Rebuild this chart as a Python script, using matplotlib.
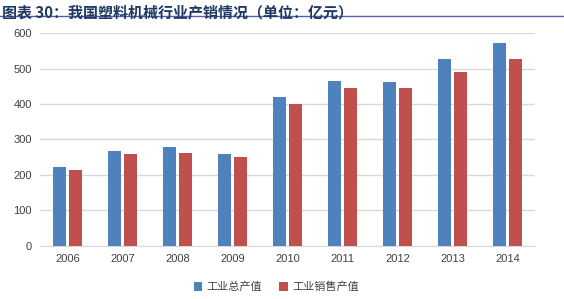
import numpy as np
import matplotlib.pyplot as plt

plt.rcParams['font.family'] = ['Noto Sans CJK SC', 'DejaVu Sans']

years = ['2006', '2007', '2008', '2009', '2010', '2011', '2012', '2013', '2014']
total_output = [222, 268, 280, 258, 421, 465, 462, 526, 571]
sales_output = [215, 260, 262, 251, 401, 444, 445, 490, 528]

fig = plt.figure(figsize=(5.64, 2.99), dpi=100)
ax = fig.add_axes([0.0709, 0.1773, 0.8777, 0.7123])

x = np.arange(len(years))
w = 0.225
ax.bar(x - 0.145, total_output, w, color='#4F81BD', label='工业总产值', zorder=3)
ax.bar(x + 0.145, sales_output, w, color='#C0504D', label='工业销售产值', zorder=3)

ax.set_xlim(-0.5, len(years) - 0.5)
ax.set_ylim(0, 600)
ax.set_yticks(range(0, 601, 100))
ax.set_xticks(x)
ax.set_xticklabels(years)
ax.grid(axis='y', color='#D9D9D9', linewidth=1, zorder=0)
for s in ['top', 'right', 'left']:
    ax.spines[s].set_visible(False)
ax.spines['bottom'].set_color('#D9D9D9')
ax.tick_params(length=0, labelsize=8, colors='#404040', pad=6)
for lbl in ax.get_xticklabels() + ax.get_yticklabels():
    lbl.set_family('Liberation Sans')

fig.legend(loc='center', bbox_to_anchor=(0.49, 0.04), ncol=2, frameon=False,
           fontsize=8, handlelength=0.8, handleheight=0.8, columnspacing=1.5,
           handletextpad=0.4, labelcolor='#404040')

fig.text(0.004, 0.985, '图表 30：我国塑料机械行业产销情况（单位：亿元）', fontsize=10.8,
         fontweight='bold', color='#1F3864', va='top', ha='left')
fig.add_artist(plt.Line2D([0, 1], [0.948, 0.948], transform=fig.transFigure,
                          color='#5B5EA6', linewidth=1))

fig.savefig('out.png', dpi=100)
